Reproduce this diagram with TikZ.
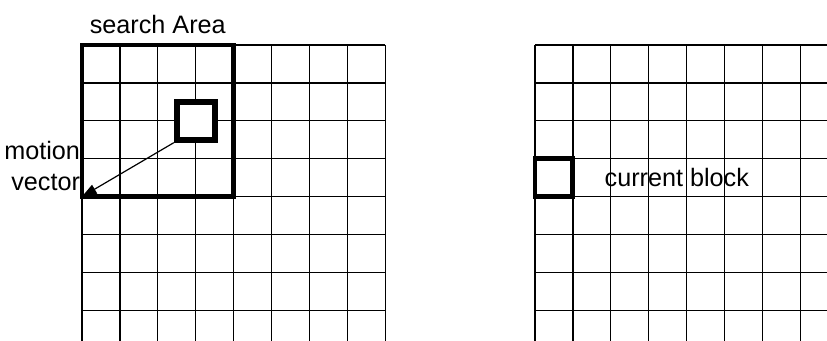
\documentclass[tikz,border=0pt]{standalone}
\usepackage{fontspec}
\setmainfont{Liberation Sans}
\usetikzlibrary{arrows.meta,positioning}
\newcommand{\cellw}{28.425pt}
\tikzset{
  gl/.style={line width=1pt,draw=black},
  lbl/.style={inner sep=0pt,outer sep=0pt,font=\fontsize{18.9}{23.3}\selectfont},
  blk/.style={draw,rectangle,inner sep=0pt,minimum size=\cellw},
  sarea/.style={blk,line width=3.2pt,outer sep=0pt,minimum size=4*\cellw},
  cand/.style={blk,line width=4.4pt,fill=white},
  cur/.style={blk,line width=3.7pt},
  vec/.style={-{Triangle[length=11pt,width=7.5pt]},line width=0.9pt},
}
\begin{document}
\begin{tikzpicture}[x=0.75pt,y=-0.75pt]
\path[use as bounding box,fill=white] (0,0) rectangle (827,341);
\foreach \i in {0,...,8} \draw[gl] (82+\i*37.9,45) -- (82+\i*37.9,341);
\foreach \j in {0,...,7} \draw[gl] (82,45+\j*37.9) -- (385.2,45+\j*37.9);
\foreach \i in {0,...,7} \draw[gl] (535+\i*37.9,45) -- (535+\i*37.9,341);
\foreach \j in {0,...,7} \draw[gl] (535,45+\j*37.9) -- (827,45+\j*37.9);
\node[sarea] (area) at (82+2*37.9,45+2*37.9) {};
\node[cand] (cand) at (82+3*37.9,45+2*37.9) {};
\node[cur] (cur) at (535+0.5*37.9,45+3.5*37.9) {};
\node[lbl,above=8.8pt of area] (sa) {search Area};
\node[lbl,align=right,above left=4.2pt and 1.5pt of area.south west] (mv) {motion\\vector};
\node[lbl,right=22pt of cur] (cb) {current block};
\draw[vec] (cand.south west) -- (area.south west);
\end{tikzpicture}
\end{document}
